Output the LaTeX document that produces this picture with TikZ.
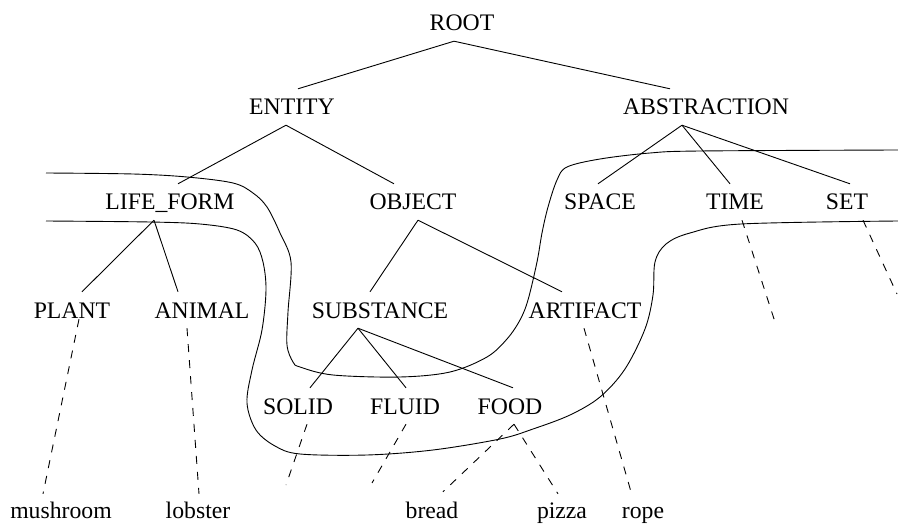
\documentclass[tikz,border=0pt]{standalone}
\usepackage{fontspec}
\setmainfont{Liberation Serif}

\begin{document}
\begin{tikzpicture}[
    x=1pt, y=-1pt,
    word/.style={anchor=base, inner xsep=0pt, inner ysep=10pt, text height=16pt, text depth=0pt, font=\fontsize{23.7pt}{28pt}\selectfont},
    link/.style={line width=0.9pt},
    hyp/.style={line width=0.9pt, dash pattern=on 8pt off 8pt},
    cut/.style={line width=0.9pt}
]
    \useasboundingbox (0,0) rectangle (898,524);

    % synsets
    \node[word] (root) at (462,31) {ROOT};
    \node[word] (entity) at (292,115) {ENTITY};
    \node[word] (abstraction) at (706,115) {ABSTRACTION};
    \node[word] (lifeform) at (170,210) {LIFE\_FORM};
    \node[word] (object) at (413,210) {OBJECT};
    \node[word] (space) at (600,210) {SPACE};
    \node[word] (time) at (735,210) {TIME};
    \node[word] (set) at (847,210) {SET};
    \node[word] (plant) at (72,318) {PLANT};
    \node[word] (animal) at (202,318) {ANIMAL};
    \node[word] (substance) at (380,318) {SUBSTANCE};
    \node[word] (artifact) at (585,318) {ARTIFACT};
    \node[word] (solid) at (298,414) {SOLID};
    \node[word] (fluid) at (405,414) {FLUID};
    \node[word] (food) at (510,414) {FOOD};

    % nouns
    \node[word] (mushroom) at (61,518) {mushroom};
    \node[word] (lobster) at (198,518) {lobster};
    \node[word] (bread) at (432,518) {bread};
    \node[word] (pizza) at (562,518) {pizza};
    \node[word] (rope) at (643,518) {rope};

    \coordinate (solidend) at (286,485);
    \coordinate (fluidend) at (372,483);
    \coordinate (timeend) at (775,322);
    \coordinate (setend) at (897,294);

    \draw[link] ([xshift=-8pt]root.south) -- ([xshift=6pt]entity.north);
    \draw[link] ([xshift=-8pt]root.south) -- ([xshift=-36pt]abstraction.north);
    \draw[link] ([xshift=-6pt]entity.south) -- ([xshift=8pt]lifeform.north);
    \draw[link] ([xshift=-6pt]entity.south) -- ([xshift=-19pt]object.north);
    \draw[link] ([xshift=-24pt]abstraction.south) -- ([xshift=-2pt]space.north);
    \draw[link] ([xshift=-24pt]abstraction.south) -- ([xshift=-5pt]time.north);
    \draw[link] ([xshift=-24pt]abstraction.south) -- ([xshift=3pt]set.north);
    \draw[link] ([xshift=-16pt]lifeform.south) -- ([xshift=10pt]plant.north);
    \draw[link] ([xshift=-16pt]lifeform.south) -- ([xshift=-24pt]animal.north);
    \draw[link] ([xshift=5pt]object.south) -- ([xshift=-10pt]substance.north);
    \draw[link] ([xshift=5pt]object.south) -- ([xshift=-23pt]artifact.north);
    \draw[link] ([xshift=-22pt]substance.south) -- ([xshift=12pt]solid.north);
    \draw[link] ([xshift=-22pt]substance.south) -- ([xshift=1pt]fluid.north);
    \draw[link] ([xshift=-22pt]substance.south) -- ([xshift=3pt]food.north);

    \draw[hyp] ([xshift=7pt,yshift=9pt]plant.south) -- ([xshift=-18pt,yshift=-2pt]mushroom.north);
    \draw[hyp] ([xshift=-15pt]animal.south) -- ([xshift=1pt,yshift=-2pt]lobster.north);
    \draw[hyp] ([xshift=-1pt]artifact.south) -- ([xshift=-12pt]rope.north);
    \draw[hyp] ([xshift=4pt]food.south) -- ([xshift=11pt]bread.north);
    \draw[hyp] ([xshift=4pt]food.south) -- ([xshift=-4pt,yshift=-2pt]pizza.north);
    \draw[hyp] ([xshift=9pt]solid.south) -- (solidend);
    \draw[hyp] ([xshift=1pt]fluid.south) -- (fluidend);
    \draw[hyp] ([xshift=7pt]time.south) -- (timeend);
    \draw[hyp] ([xshift=16pt]set.south) -- (setend);

    % upper cut
    \draw[cut] plot[smooth, tension=0.55] coordinates {
        (46,173) (133,174) (187,177) (233,183) (253,193) (267,207) (280,233)
        (291,262) (288,312) (287,345) (293,362) (300,367) (333,375) (400,377)
        (450,372) (487,357) (507,339) (520,320) (528,300) (537,262) (542,233)
        (548,207) (557,180) (567,167) (600,159) (650,153) (700,151) (898,150)};
    % lower cut
    \draw[cut] plot[smooth, tension=0.55] coordinates {
        (46,221) (150,222) (200,224) (237,230) (255,243) (263,262) (266,290)
        (262,330) (252,370) (247,403) (256,430) (275,446) (300,454) (367,455)
        (433,450) (500,439) (533,429) (570,415) (600,397) (625,369) (645,329)
        (653,295) (655,262) (666,244) (690,233) (741,224) (898,221)};
\end{tikzpicture}
\end{document}
